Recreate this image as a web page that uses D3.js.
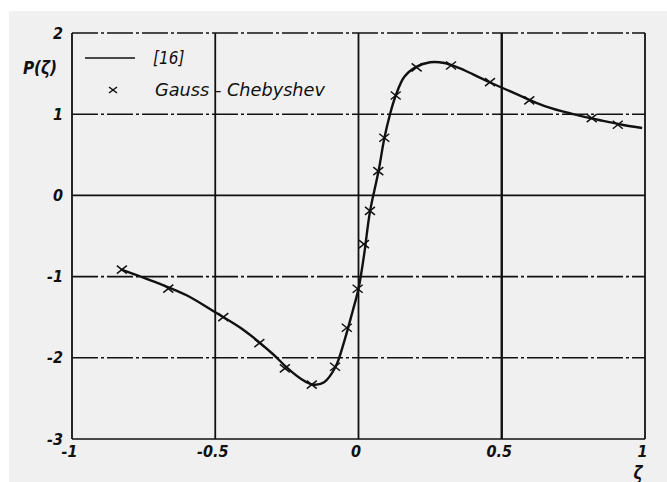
<!DOCTYPE html>
<meta charset="utf-8">
<style>
body { margin: 0; background: #fff; }
text {
  font-family: "DejaVu Sans Condensed", "DejaVu Sans", sans-serif;
  font-style: italic;
  fill: #111;
}
.grid line { stroke: #111; stroke-width: 1.6; }
.curve { fill: none; stroke: #111; stroke-width: 2.4; }
.cross { stroke: #111; stroke-width: 1.5; }
</style>
<body>
<script src="https://d3js.org/d3.v7.min.js"></script>
<script>

var width = 667,
    height = 482;

// tick values
var xTicks = [-1, -0.5, 0, 0.5, 1];
var yTicks = [-3, -2, -1, 0, 1, 2];

// solid curve, ref. [16]
var curveZeta = [-0.83, -0.7, -0.6, -0.5, -0.4, -0.3, -0.25, -0.2, -0.16, -0.12, -0.08, -0.05, -0.02, 0, 0.02, 0.04, 0.07, 0.09, 0.11, 0.13, 0.16, 0.2, 0.25, 0.3, 0.35, 0.4, 0.46, 0.55, 0.65, 0.75, 0.85, 0.92, 0.99];
var curveP = [-0.91, -1.08, -1.23, -1.44, -1.66, -1.95, -2.12, -2.26, -2.33, -2.30, -2.11, -1.80, -1.42, -1.15, -0.72, -0.2, 0.3, 0.7, 1.0, 1.23, 1.46, 1.58, 1.64, 1.63, 1.57, 1.49, 1.39, 1.25, 1.10, 1.00, 0.92, 0.87, 0.83];

// Gauss-Chebyshev points
var gcZeta = [-0.826, -0.664, -0.472, -0.346, -0.257, -0.163, -0.082, -0.041, -0.003, 0.019, 0.04, 0.069, 0.09, 0.13, 0.203, 0.323, 0.459, 0.596, 0.814, 0.905];
var gcP = [-0.915, -1.149, -1.50, -1.82, -2.13, -2.33, -2.11, -1.63, -1.15, -0.60, -0.19, 0.30, 0.71, 1.23, 1.576, 1.60, 1.395, 1.17, 0.952, 0.87];

var x = d3.scaleLinear().domain([-1, 1]).range([72, 645]);
var y = d3.scaleLinear().domain([-3, 2]).range([439, 33]);

var svg = d3.select("body").append("svg")
    .attr("width", width)
    .attr("height", height);

svg.append("rect")
    .attr("x", 9).attr("y", 11)
    .attr("width", width - 9).attr("height", height - 11)
    .attr("fill", "#f0f0f0");

var grid = svg.append("g").attr("class", "grid");

grid.selectAll(".h")
    .data(yTicks)
  .enter().append("line")
    .attr("class", "h")
    .attr("x1", x(-1)).attr("x2", x(1))
    .attr("y1", function(d) { return y(d); })
    .attr("y2", function(d) { return y(d); })
    .style("stroke-dasharray", function(d) { return (d == -3 || d == 0) ? null : "26 3 3 3"; });

grid.selectAll(".v")
    .data(xTicks)
  .enter().append("line")
    .attr("class", "v")
    .attr("y1", y(-3)).attr("y2", y(2))
    .attr("x1", function(d) { return x(d); })
    .attr("x2", function(d) { return x(d); })
    .style("stroke-width", function(d) { return d == 0.5 ? 2.4 : 1.8; });

var fmt = function(d) { return String(d); };

svg.append("g")
    .attr("transform", "translate(-3," + (y(-3) + 5) + ")")
    .call(d3.axisBottom(x).tickValues(xTicks).tickSize(0).tickPadding(2).tickFormat(fmt))
    .call(function(g) { g.select(".domain").remove(); })
    .selectAll("text")
    .attr("font-size", 16)
    .attr("font-weight", "bold")
    .attr("font-family", null);

svg.append("g")
    .attr("transform", "translate(" + (x(-1) - 7) + ",0)")
    .call(d3.axisLeft(y).tickValues(yTicks).tickSize(0).tickPadding(2).tickFormat(fmt))
    .call(function(g) { g.select(".domain").remove(); })
    .selectAll("text")
    .attr("font-size", 16)
    .attr("font-weight", "bold")
    .attr("font-family", null);

svg.append("text")
    .attr("x", 638).attr("y", 479)
    .attr("text-anchor", "middle")
    .attr("font-size", 17)
    .attr("font-weight", "bold")
    .text("ζ");

svg.append("text")
    .attr("x", 40).attr("y", 74)
    .attr("text-anchor", "middle")
    .attr("font-size", 17)
    .attr("font-weight", "bold")
    .text("P(ζ)");

var line = d3.line()
    .x(function(d) { return x(d[0]); })
    .y(function(d) { return y(d[1]); })
    .curve(d3.curveCatmullRom);

svg.append("path")
    .datum(d3.zip(curveZeta, curveP))
    .attr("class", "curve")
    .attr("d", line);

function cross(sel) {
  sel.append("line").attr("x1", -5).attr("y1", -4).attr("x2", 5).attr("y2", 4);
  sel.append("line").attr("x1", -5).attr("y1", 4).attr("x2", 5).attr("y2", -4);
}

svg.selectAll(".cross")
    .data(d3.zip(gcZeta, gcP))
  .enter().append("g")
    .attr("class", "cross")
    .attr("transform", function(d) { return "translate(" + x(d[0]) + "," + y(d[1]) + ")"; })
    .call(cross);

// legend
svg.append("line")
    .attr("x1", 85).attr("x2", 135)
    .attr("y1", 58).attr("y2", 58)
    .attr("stroke", "#111").attr("stroke-width", 1.6);

svg.append("text")
    .attr("x", 153).attr("y", 64)
    .attr("font-size", 17)
    .text("[16]");

svg.append("g")
    .attr("class", "cross")
    .attr("transform", "translate(113,90)")
    .call(function(g) {
      g.append("line").attr("x1", -4).attr("y1", -3).attr("x2", 4).attr("y2", 3);
      g.append("line").attr("x1", -4).attr("y1", 3).attr("x2", 4).attr("y2", -3);
    });

svg.append("text")
    .attr("x", 155).attr("y", 96)
    .attr("font-size", 17)
    .attr("textLength", 170)
    .attr("lengthAdjust", "spacingAndGlyphs")
    .text("Gauss - Chebyshev");

</script>
